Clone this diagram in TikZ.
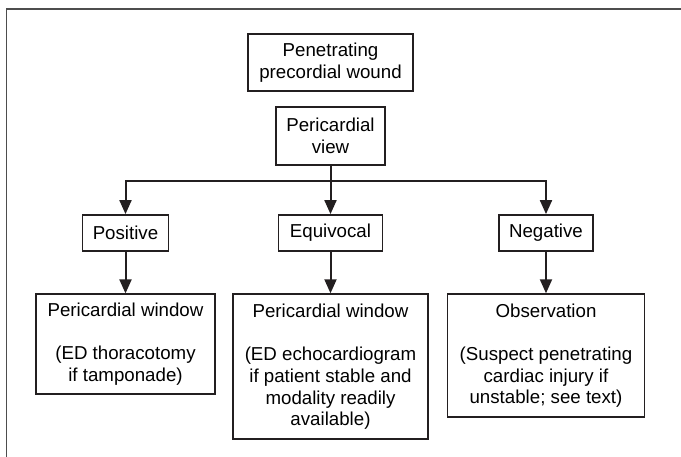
\documentclass[tikz,border=0pt]{standalone}
\usepackage{fontspec}
\setmainfont{Liberation Sans}
\usetikzlibrary{arrows.meta}
\definecolor{ink}{HTML}{231F20}
\definecolor{frame}{HTML}{4D4D4D}

\begin{document}
\begin{tikzpicture}[x=1pt,y=-1pt,->,>={Triangle[length=14pt,width=12pt]},line width=2pt,draw=ink,
    box/.style={draw=ink,line width=1.8pt,align=center,inner xsep=10pt,font=\fontsize{18.7}{21.7}\selectfont}]
            \useasboundingbox (0,0) rectangle (681,457);
            \draw[-,frame,line width=1.6pt] (6.5,457) -- (6.5,9) -- (681,9);
            \node[box,minimum width=165pt,minimum height=57pt](wound)at(330.5, 62.5){Penetrating\\precordial wound};
            \node[box,minimum width=108.5pt,minimum height=57.4pt](view)at(330.5, 136){Pericardial\\view};
            \node[box,minimum width=86pt,minimum height=36pt](pos)at(125.5, 233){Positive};
            \node[box,minimum width=104pt,minimum height=36pt](equ)at(330.5, 233){Equivocal};
            \node[box,minimum width=94pt,minimum height=36pt](neg)at(546, 233){Negative};
            \node[box,minimum width=179pt,minimum height=100pt](posw)at(125.5, 344.3){Pericardial window\\[21.7pt](ED thoracotomy\\if tamponade)};
            \node[box,minimum width=195pt,minimum height=145pt](equw)at(330.5, 366.7){Pericardial window\\[21.7pt](ED echocardiogram\\if patient stable and\\modality readily\\available)};
            \node[box,minimum width=197pt,minimum height=123pt](obs)at(546, 355.7){Observation\\[21.7pt](Suspect penetrating\\cardiac injury if\\unstable; see text)};
            \coordinate (split) at (330.5, 181);
            \draw[-] (view.south) -- (split);
            \draw (split) -| (pos.north);
            \draw (split) -| (neg.north);
            \path (split) edge (equ.north)
            (pos) edge (posw)
            (equ) edge (equw)
            (neg) edge (obs);
        \end{tikzpicture}
\end{document}
